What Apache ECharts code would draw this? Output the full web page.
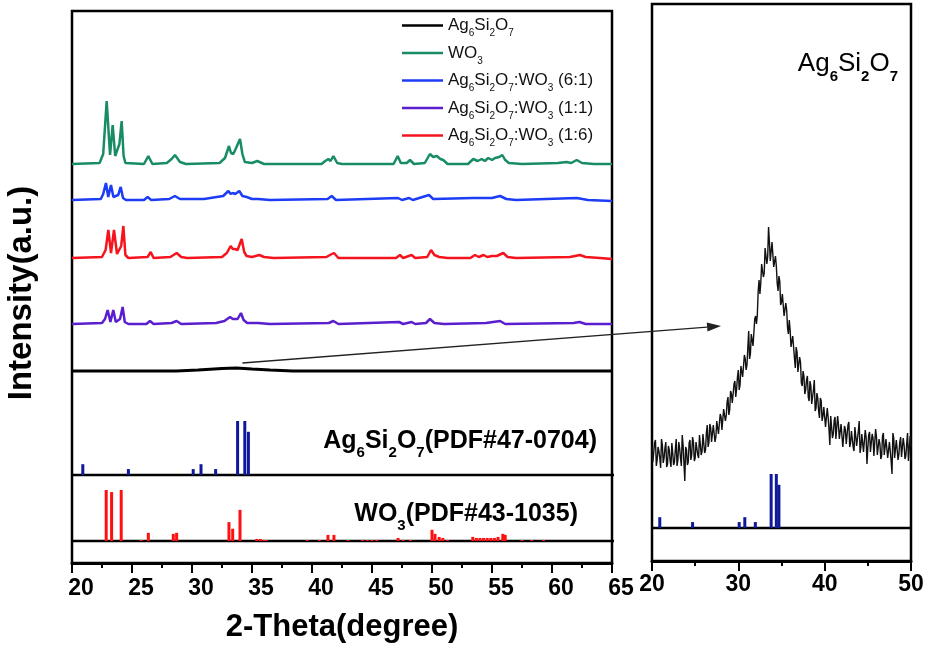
<!DOCTYPE html>
<html>
<head>
<meta charset="utf-8">
<script src="https://cdn.jsdelivr.net/npm/echarts@6/dist/echarts.min.js"></script>
<style>
  html, body { margin: 0; padding: 0; background: #fff; }
  #chart { width: 927px; height: 647px; }
</style>
</head>
<body>
<div id="chart"></div>
<script>
// ---- data (2-theta in degrees, intensity in a.u.) ----
var traceNames = ['Ag6Si2O7', 'WO3', 'Ag6Si2O7:WO3 (6:1)', 'Ag6Si2O7:WO3 (1:1)', 'Ag6Si2O7:WO3 (1:6)'];
var traceColors = ['#000000', '#178c66', '#1c3cf5', '#5a1ecf', '#f5141e'];
// vertical offset of each stacked pattern
var traceOffsets = [192, 399, 363, 239, 305];

var agTrace = [[20,0],[28.7,0],[30.5,1],[32.5,2.5],[33.7,3],[35,2],[36.5,1],[38.4,0],[65,0]];
var wo3Trace = [[20,0],[22.3,1],[22.6,10],[22.89,63],[23.17,9],[23.39,39],[23.6,8],[23.72,6],[23.95,20],[24.14,43],
  [24.3,8],[24.45,1],[26,0],[26.36,8],[26.7,0],[27.9,1],[28.3,5],[28.58,9],[29,2],[29.5,0],[32.3,1],[32.75,6],
  [33.08,18],[33.25,11],[33.44,10],[33.6,14],[34,25],[34.2,10],[34.4,2],[35,1],[35.44,3],[36,0],[40.8,0],[41.1,3],
  [41.36,5],[41.55,3],[41.78,8],[42.1,1],[42.5,0],[46.8,0],[47.14,8],[47.4,1],[47.9,1],[48.17,4],[48.5,0],[49.4,1],
  [49.83,10],[50.1,7],[50.4,8],[50.7,5],[50.94,4],[51.3,0],[53,0],[53.44,5],[53.8,3],[54.14,5],[54.4,3],[54.69,6],
  [55,4],[55.25,6],[55.6,7],[55.86,9],[56.1,4],[56.4,1],[57.5,0],[60.5,1],[61.2,2],[61.6,1],[62.06,4],[62.5,1],[63.5,0],[65,0]];
var mix61Trace = [[20,0],[22.4,1],[22.6,6],[22.83,17],[23.02,3],[23.25,15],[23.45,3],[23.6,1],[23.85,5],[24.06,13],
  [24.25,2],[24.5,0],[26,0],[26.3,3],[26.6,0],[28.1,1],[28.58,4],[29,1],[31,1],[32.06,3],[32.6,4],[33.03,9],[33.22,6],
  [33.39,7],[33.6,6],[33.94,9],[34.2,4],[34.56,3],[35,1],[35.5,1],[36.5,0],[41.3,1],[41.64,4],[42,0],[47.17,2],[47.5,0],
  [48.1,2],[48.4,0],[49.75,5],[50.1,1],[53.42,2],[54.1,2],[55,2],[55.67,4],[56.2,1],[57,0],[62.06,2],[63,0],[65,-1]];
var mix11Trace = [[20,0],[22.5,1],[22.75,5],[22.97,14],[23.2,2],[23.44,14],[23.65,2],[23.8,1],[24,5],[24.22,17],
  [24.4,2],[24.7,0],[26.2,0],[26.5,3],[26.8,0],[28.3,1],[28.72,3],[29.1,0],[32,1],[32.7,3],[33.17,7],[33.4,5],[33.6,5],
  [33.8,5],[34.08,11],[34.3,4],[34.6,1],[35.5,1],[36.5,0],[41.4,1],[41.78,3],[42.2,0],[47.25,2],[47.6,0],[48.3,2],
  [48.6,0],[49.5,1],[49.83,5],[50.2,1],[51,0],[54.5,1],[55.67,3],[56.1,0],[61.8,1],[62.3,2],[62.8,0],[65,0]];
var mix16Trace = [[20,0],[22.5,1],[22.8,8],[23.03,28],[23.25,5],[23.5,28],[23.75,4],[23.9,2],[24.1,12],[24.28,32],
  [24.45,3],[24.7,0],[26.3,1],[26.56,6],[26.8,0],[28.2,1],[28.72,5],[29.1,1],[29.6,0],[32.5,1],[32.9,5],[33.22,12],
  [33.4,9],[33.58,9],[33.8,8],[34.14,19],[34.35,6],[34.55,2],[35,1],[35.61,3],[36,1],[36.8,0],[41.2,1],[41.5,3],
  [41.83,5],[42.2,0],[47,0],[47.33,3],[47.6,0],[48.3,3],[48.6,0],[49.6,1],[49.92,8],[50.2,3],[50.6,1],[51.3,0],[53.2,0],
  [53.58,3],[53.9,1],[54.3,3],[54.6,1],[55,2],[55.4,2],[55.94,5],[56.3,1],[57,0],[61.5,1],[62.33,3],[62.8,1],[64,0],[65,-1]];

// reference patterns: [2-theta, relative intensity %]
var agPdf = [[20.9,20],[24.7,11],[30.1,11],[30.75,20],[31.97,11],[33.8,100],[34.4,100],[34.7,80]];
var wo3Pdf = [[22.85,100],[23.3,96],[24.1,100],[25.75,2],[26.36,16],[28.44,14],[28.72,16],[33.08,37],[33.39,24],
  [34.0,61],[35.4,4],[35.7,4],[36.0,2],[36.2,2],[39.6,2],[40.6,2],[41.33,12],[41.83,12],[43.0,2],[44.2,2],[44.6,2],
  [45.0,2],[45.4,2],[47.17,6],[47.6,2],[48.2,2],[50.0,22],[50.25,14],[50.6,8],[50.9,6],[51.3,2],[53.4,8],[53.7,6],
  [54.0,6],[54.3,6],[54.6,6],[54.9,6],[55.2,6],[55.5,8],[55.9,14],[56.1,12],[57.5,2],[58.3,2],[59.3,2]];
var pdfBase = { ag: 88, wo3: 22, agZoom: 33 };
var pdfScale = { ag: 0.54, wo3: 0.51 };

// enlarged Ag6Si2O7 scan (20-50 deg, step 0.1)
var zoomStart = 20, zoomStep = 0.1;
var zoomCounts = [
  115,99,97,118,121,95,101,114,110,103,93,122,116,98,103,113,119,94,97,115,
  111,100,94,118,108,96,99,111,122,95,101,119,113,103,95,126,116,98,80,114,
  111,96,99,118,121,101,106,124,119,100,103,119,118,106,103,126,125,106,110,127,
  126,108,111,128,136,114,119,137,133,119,117,136,137,119,124,140,142,127,127,147,
  144,131,132,152,153,140,145,159,164,146,151,170,167,158,157,177,180,164,172,184,
  191,171,176,195,195,184,183,206,202,191,196,213,230,202,207,227,229,215,216,242,
  245,237,246,270,281,267,278,297,299,284,288,313,314,297,304,334,319,300,301,319,
  321,294,294,305,295,278,270,285,280,256,259,267,269,245,244,258,251,233,227,241,
  231,214,214,225,225,203,193,214,209,189,190,204,199,178,175,190,185,167,171,181,
  185,164,160,180,175,157,159,171,181,150,153,168,163,150,143,163,160,140,145,154,
  156,134,136,153,144,132,116,145,143,123,127,140,144,122,122,145,136,122,124,137,
  137,114,115,135,131,117,117,136,139,114,118,130,132,114,110,134,125,115,114,130,
  140,108,114,127,127,109,108,131,124,97,113,126,129,109,107,127,123,105,103,132,
  124,106,108,122,117,102,105,125,128,106,107,122,121,103,101,119,118,100,87,128,
  123,103,104,121,119,101,107,119,124,104,102,123,116,102,105,117,128,100,101,125,
  114];

var FONT = '"Liberation Sans", Arial, Helvetica, sans-serif';

// turn "Ag6Si2O7" into rich text with subscripts
function chem(text, m, s) {
  var cut = text.indexOf(' (');
  var head = cut < 0 ? text : text.slice(0, cut);
  var rest = cut < 0 ? '' : text.slice(cut);
  var out = '', buf = '';
  for (var k = 0; k < head.length; k++) {
    var c = head[k];
    if (/\d/.test(c) && k > 0 && /[A-Za-z]/.test(head[k - 1])) {
      if (buf) out += '{' + m + '|' + buf + '}';
      buf = '';
      out += '{' + s + '|' + c + '}';
    } else {
      buf += c;
    }
  }
  buf += rest;
  if (buf) out += '{' + m + '|' + buf + '}';
  return out;
}

function sticks(base, scale, color) {
  return function (params, api) {
    var x = api.value(0), h = api.value(1);
    var p0 = api.coord([x, base]);
    var p1 = api.coord([x, base + h * scale]);
    return {
      type: 'rect',
      shape: { x: p0[0] - 1.5, y: p1[1], width: 3, height: p0[1] - p1[1] },
      style: { fill: color }
    };
  };
}

var traces = [agTrace, wo3Trace, mix61Trace, mix11Trace, mix16Trace];
var series = [];
traces.forEach(function (t, i) {
  series.push({
    name: traceNames[i],
    type: 'line',
    xAxisIndex: 0, yAxisIndex: 0,
    data: t.map(function (p) { return [p[0], p[1] + traceOffsets[i]]; }),
    symbol: 'none',
    lineStyle: { color: traceColors[i], width: i === 0 ? 3 : 2.5 },
    itemStyle: { color: traceColors[i] },
    z: 3
  });
});

// reference pattern baselines
[[0, pdfBase.ag, 65.5], [0, pdfBase.wo3, 65.5], [1, pdfBase.agZoom, 50]].forEach(function (b) {
  series.push({
    type: 'line', xAxisIndex: b[0], yAxisIndex: b[0],
    data: [[20, b[1]], [b[2], b[1]]],
    symbol: 'none', clip: false,
    lineStyle: { color: '#000', width: 2.5 }, z: 2
  });
});

series.push({ type: 'custom', xAxisIndex: 0, yAxisIndex: 0, data: agPdf,
  renderItem: sticks(pdfBase.ag, pdfScale.ag, '#10189a'), z: 3 });
series.push({ type: 'custom', xAxisIndex: 0, yAxisIndex: 0, data: wo3Pdf,
  renderItem: sticks(pdfBase.wo3, pdfScale.wo3, '#ff1010'), z: 3 });
series.push({ type: 'custom', xAxisIndex: 1, yAxisIndex: 1, data: agPdf,
  renderItem: sticks(pdfBase.agZoom, pdfScale.ag, '#10189a'), z: 3 });

series.push({
  name: 'zoom',
  type: 'line', xAxisIndex: 1, yAxisIndex: 1,
  data: zoomCounts.map(function (v, i) { return [zoomStart + i * zoomStep, v]; }),
  symbol: 'none',
  lineStyle: { color: '#111', width: 1.4 },
  z: 3
});

var axisCommon = {
  type: 'value',
  axisLine: { lineStyle: { color: '#000', width: 3 } },
  axisTick: { length: 10, lineStyle: { color: '#000', width: 2 } },
  minorTick: { show: true, splitNumber: 2, length: 5, lineStyle: { color: '#000', width: 2 } },
  splitLine: { show: false },
  minorSplitLine: { show: false }
};

function labelRich(mainFont, subFont, mainLH) {
  return {
    m: { font: mainFont, fill: '#000', lineHeight: mainLH, verticalAlign: 'middle' },
    s: { font: subFont, fill: '#000', lineHeight: 4, verticalAlign: 'bottom' }
  };
}

var chart = echarts.init(document.getElementById('chart'), null, { renderer: 'canvas' });

chart.setOption({
  animation: false,
  backgroundColor: '#fff',
  grid: [
    { left: 72, top: 11, width: 540, height: 552, show: true, borderColor: '#000', borderWidth: 2.5,
      backgroundColor: 'transparent', containLabel: false, outerBoundsMode: 'none' },
    { left: 652, top: 4, width: 259, height: 557, show: true, borderColor: '#000', borderWidth: 2.5,
      backgroundColor: 'transparent', containLabel: false, outerBoundsMode: 'none' }
  ],
  xAxis: [
    Object.assign({}, axisCommon, {
      gridIndex: 0, min: 20, max: 65, interval: 5,
      axisLabel: { color: '#000', fontSize: 23, fontWeight: 'bold', fontFamily: FONT, margin: 14,
        padding: [0, 0, 0, 18], showMinLabel: true, showMaxLabel: true }
    }),
    Object.assign({}, axisCommon, {
      gridIndex: 1, min: 20, max: 50, interval: 10,
      axisLabel: { color: '#000', fontSize: 23, fontWeight: 'bold', fontFamily: FONT, margin: 12,
        showMinLabel: true, showMaxLabel: true }
    })
  ],
  yAxis: [
    { gridIndex: 0, type: 'value', min: 0, max: 552, show: false },
    { gridIndex: 1, type: 'value', min: 0, max: 557, show: false }
  ],
  legend: {
    data: traceNames,
    orient: 'vertical',
    left: 402, top: 17,
    padding: 0,
    icon: 'rect',
    itemWidth: 41, itemHeight: 2.5, itemGap: 6,
    selectedMode: false,
    formatter: function (name) { return chem(name, 'n', 's'); },
    textStyle: {
      color: '#111', fontFamily: FONT, fontSize: 17,
      rich: {
        n: { fontSize: 17, fontFamily: FONT, color: '#111', lineHeight: 26, verticalAlign: 'middle' },
        s: { fontSize: 10, fontFamily: FONT, color: '#111', lineHeight: 4, verticalAlign: 'bottom' }
      }
    }
  },
  series: series,
  graphic: [
    { id: 'ytitle', type: 'text', x: 22, y: 293, rotation: Math.PI / 2, z: 10,
      style: { text: 'Intensity(a.u.)', fill: '#000', font: 'bold 33px ' + FONT, align: 'center', verticalAlign: 'middle' } },
    { id: 'xtitle', type: 'text', x: 342, y: 627, z: 10,
      style: { text: '2-Theta(degree)', fill: '#000', font: 'bold 31px ' + FONT, align: 'center', verticalAlign: 'middle' } },
    { id: 'agPdfLabel', type: 'text', x: 597, y: 441, z: 10,
      style: { text: chem('Ag6Si2O7(PDF#47-0704)', 'm', 's'), align: 'right', verticalAlign: 'middle',
        rich: labelRich('bold 25px ' + FONT, 'bold 15px ' + FONT, 38) } },
    { id: 'wo3PdfLabel', type: 'text', x: 578, y: 514, z: 10,
      style: { text: chem('WO3(PDF#43-1035)', 'm', 's'), align: 'right', verticalAlign: 'middle',
        rich: labelRich('bold 25px ' + FONT, 'bold 15px ' + FONT, 38) } },
    { id: 'zoomLabel', type: 'text', x: 898, y: 64, z: 10,
      style: { text: chem('Ag6Si2O7', 'm', 's'), align: 'right', verticalAlign: 'middle',
        rich: labelRich('26px ' + FONT, 'bold 15px ' + FONT, 40) } }
  ]
});

// arrow from the Ag6Si2O7 hump to the enlarged panel
var arrowFrom = [34.2, 200];   // left panel data coords
var arrowTo = [28.0, 235];     // right panel data coords
var a = chart.convertToPixel({ gridIndex: 0 }, arrowFrom);
var b = chart.convertToPixel({ gridIndex: 1 }, arrowTo);
var dx = b[0] - a[0], dy = b[1] - a[1];
var len = Math.sqrt(dx * dx + dy * dy);
var ux = dx / len, uy = dy / len;
var headLen = 14, headHalf = 4.5;
var bx = b[0] - ux * headLen, by = b[1] - uy * headLen;
chart.setOption({
  graphic: [
    { id: 'arrowLine', type: 'line', z: 20,
      shape: { x1: a[0], y1: a[1], x2: bx, y2: by },
      style: { stroke: '#222', lineWidth: 1.3 } },
    { id: 'arrowHead', type: 'polygon', z: 20,
      shape: { points: [[b[0], b[1]], [bx - uy * headHalf, by + ux * headHalf], [bx + uy * headHalf, by - ux * headHalf]] },
      style: { fill: '#222' } }
  ]
});

window.addEventListener('resize', function () { chart.resize(); });
</script>
</body>
</html>
